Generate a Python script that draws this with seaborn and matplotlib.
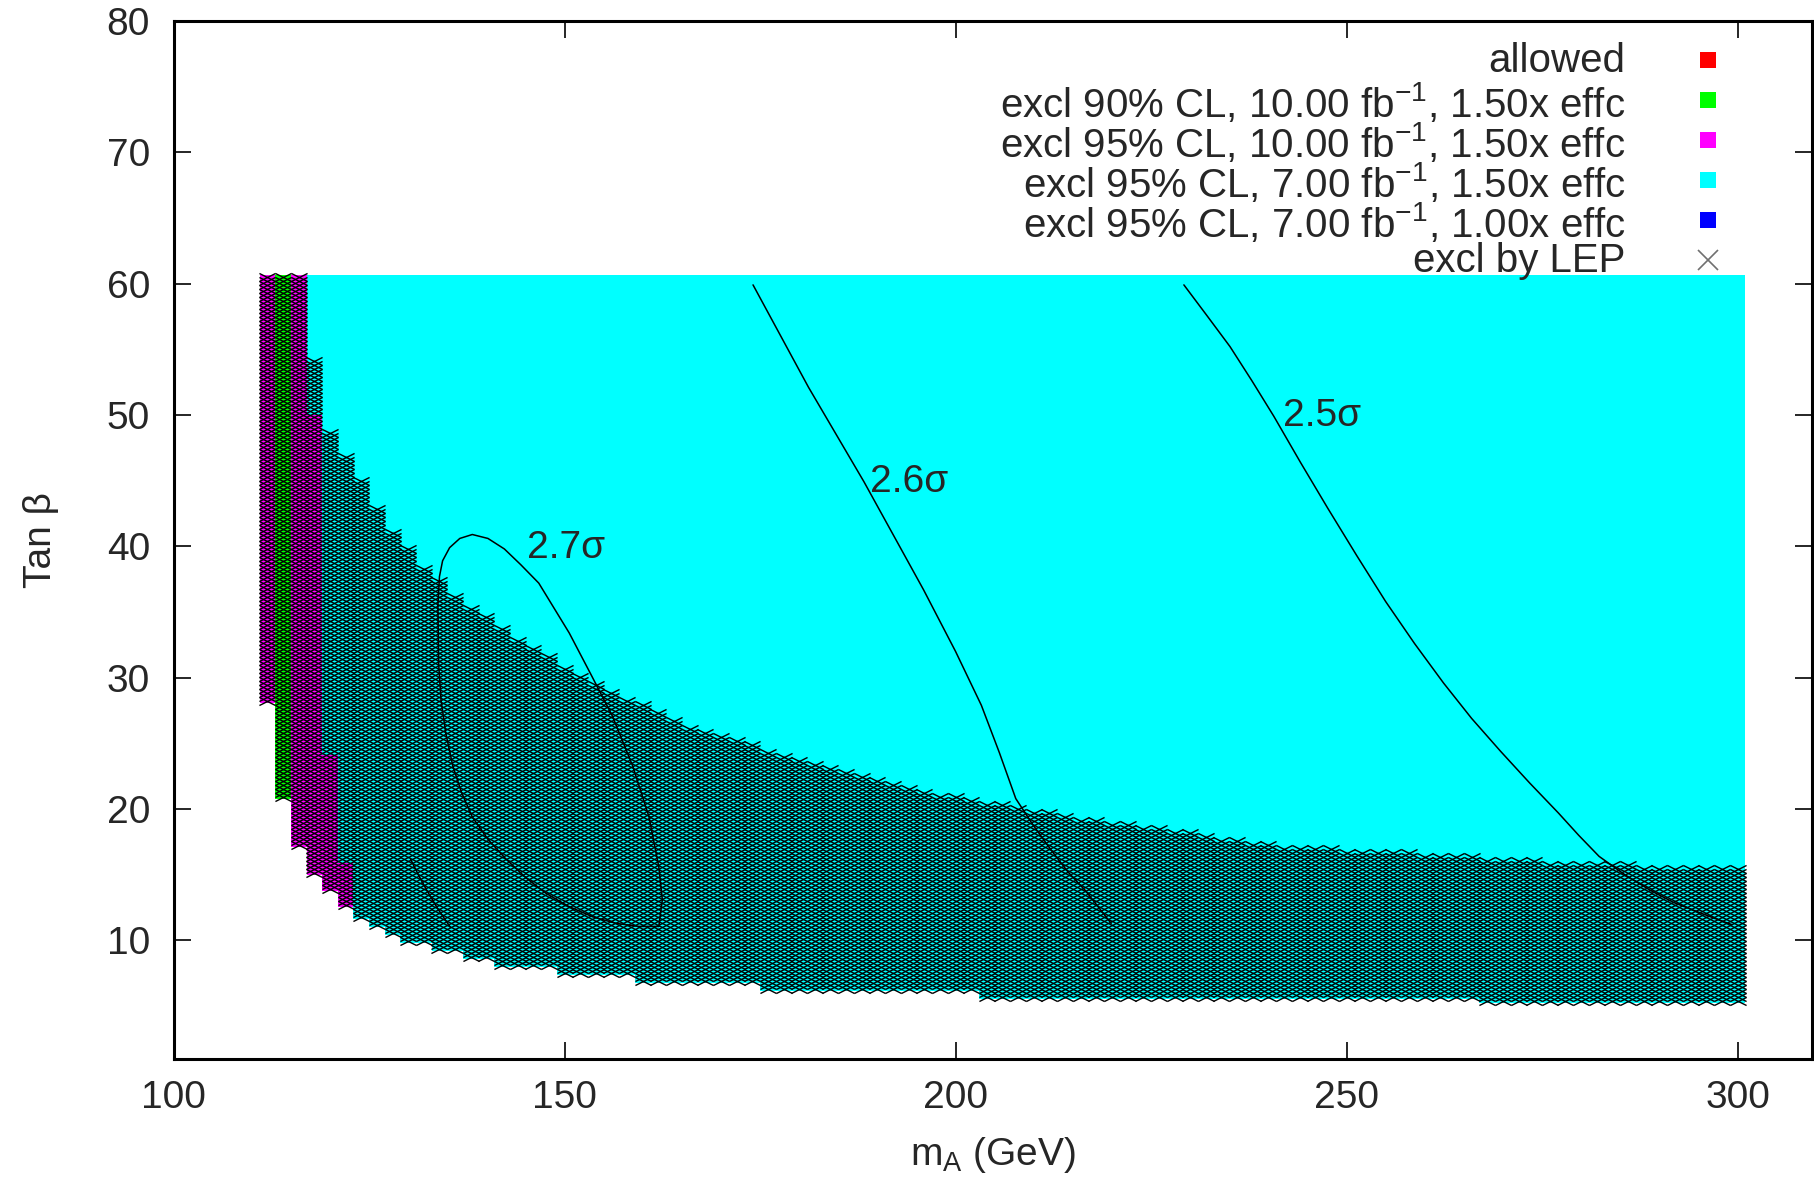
import numpy as np
import matplotlib
matplotlib.use("Agg")
import matplotlib.pyplot as plt
from matplotlib.colors import ListedColormap
from matplotlib.path import Path
import seaborn as sns

# scan grid: mA columns of 2 GeV, tan(beta) rows of about 0.3
ma_edges = np.arange(111, 302, 2)
tb_edges = 60.65 - np.arange(197)[::-1] * 0.3044

# lower edge of the scanned (coloured) region, as steps in mA
floor_ma = [111, 113, 115, 117, 119, 121, 123, 125, 127, 129, 133, 137, 141, 149, 159, 175, 203, 267]
floor_tb = [28.2, 20.7, 17.2, 14.9, 13.7, 12.6, 11.5, 10.9, 10.3, 9.7, 9.1, 8.5, 8.0, 7.4, 6.8, 6.2, 5.7, 5.2]

# low mass columns: colour below the cut (1 = 90% CL 10/fb, 2 = 95% CL 10/fb), 7/fb region above it
low_cols = [112, 114, 116, 118, 120, 122]
low_code = [2, 1, 2, 2, 2, 2]
low_cut = [61.0, 61.0, 61.0, 49.9, 24.1, 15.9]

# upper edge of the LEP excluded region
lep_ma = [118, 120, 123, 127.3, 131.1, 134.9, 139.2, 143.4, 147.7, 152.0, 156.2, 160.5, 164.8,
          174, 181, 189, 196, 204, 211, 218, 226, 240, 255, 270, 285, 300]
lep_tb = [54.2, 48.9, 46.1, 41.8, 39.1, 36.9, 35.0, 33.2, 31.7, 30.2, 29.0, 27.8, 26.6,
          24.9, 23.6, 22.3, 21.4, 20.6, 19.8, 19.2, 18.6, 17.3, 16.8, 16.2, 15.8, 15.5]

# significance contours
sig27_ma = [162.05, 162.5, 162.05, 160.8, 158.7, 156.1, 153.5, 150.6, 146.7, 144.4, 142.3, 140.2,
            138.2, 136.6, 135.3, 134.4, 134.0, 133.8, 133.9, 134.2, 134.8, 135.7, 136.8, 138.2,
            140.2, 142.5, 145.0, 147.6, 150.5, 153.6, 156.6, 159.5, 162.05]
sig27_tb = [11.07, 13.1, 15.6, 19.4, 23.3, 27.1, 30.1, 33.4, 37.2, 38.6, 39.8, 40.6,
            40.9, 40.6, 39.9, 38.9, 37.7, 35.5, 31.0, 28.3, 25.8, 23.3, 21.3, 19.4,
            17.7, 16.2, 14.8, 13.6, 12.6, 11.8, 11.3, 11.07, 11.07]
sig28_ma = [130.3, 131.3, 132.3, 133.8, 135.4]
sig28_tb = [16.2, 15.0, 13.9, 12.4, 11.0]
sig26_ma = [174.1, 181.2, 188.3, 195.9, 200.0, 203.3, 205.6, 207.7, 209.9, 212.2, 214.4, 216.6, 219.9]
sig26_tb = [59.9, 52.1, 44.9, 36.7, 32.0, 27.9, 24.3, 20.8, 18.8, 16.9, 15.2, 13.8, 11.3]
sig25_ma = [229.2, 232.1, 235.1, 237.9, 240.7, 244.1, 247.6, 251.3, 255.0, 258.7, 262.4, 266.0,
            269.7, 273.4, 277.1, 279.7, 282.3, 285.6, 288.9, 291.8, 294.8, 297.0, 299.3]
sig25_tb = [59.9, 57.6, 55.2, 52.6, 49.9, 46.4, 42.9, 39.3, 35.8, 32.6, 29.6, 26.9,
            24.4, 22.0, 19.7, 18.0, 16.4, 15.0, 13.8, 12.9, 12.2, 11.7, 11.2]

contour_labels = ["2.7σ", "2.6σ", "2.5σ"]
label_ma = [150.2, 194.0, 246.9]
label_tb = [39.9, 44.9, 49.9]

legend_labels = ["allowed",
                 "excl 90% CL, 10.00 fb$^{\\mathregular{-1}}$, 1.50x effc",
                 "excl 95% CL, 10.00 fb$^{\\mathregular{-1}}$, 1.50x effc",
                 "excl 95% CL, 7.00 fb$^{\\mathregular{-1}}$, 1.50x effc",
                 "excl 95% CL, 7.00 fb$^{\\mathregular{-1}}$, 1.00x effc",
                 "excl by LEP"]
legend_colors = ["#ff0000", "#00ff00", "#ff00ff", "#00ffff", "#0000ff", "#707070"]

sns.set_style("ticks")
plt.rcParams["font.family"] = ["Liberation Sans", "DejaVu Sans"]
plt.rcParams["mathtext.fontset"] = "custom"
plt.rcParams["mathtext.rm"] = "Liberation Sans"
plt.rcParams["mathtext.it"] = "Liberation Sans:italic"
plt.rcParams["font.size"] = 28

fig = plt.figure(figsize=(18.14, 11.82), dpi=100)
ax = fig.add_axes([0.0957, 0.1043, 0.9033, 0.8781])

# build the cell map
ma_c = (ma_edges[:-1] + ma_edges[1:]) / 2
tb_c = (tb_edges[:-1] + tb_edges[1:]) / 2
MA, TB = np.meshgrid(ma_c, tb_c)
floor = np.array(floor_tb)[np.searchsorted(floor_ma, MA, side="right") - 1]
inside = TB >= floor
grid = np.where(inside, 3.0, np.nan)
for c, code, cut in zip(low_cols, low_code, low_cut):
    grid[(MA == c) & inside & (TB < cut)] = code

cmap = ListedColormap(["#00ff00", "#ff00ff", "#00ffff"])
ax.pcolormesh(ma_edges, tb_edges, np.ma.masked_invalid(grid), cmap=cmap,
              vmin=0.5, vmax=3.5, shading="flat", zorder=1)

# LEP exclusion as x marks on every excluded cell
lep_top = np.interp(MA, lep_ma, lep_tb, left=99.0)
lep = inside & (TB <= lep_top)
xmark = Path([(-1, -0.5), (1, 0.5), (-1, 0.5), (1, -0.5)],
             [Path.MOVETO, Path.LINETO, Path.MOVETO, Path.LINETO])
sns.scatterplot(x=MA[lep], y=TB[lep], marker=xmark, s=135, color="black",
                edgecolor="black", linewidth=1.0, legend=False, ax=ax, zorder=3)

for xs, ys in [(sig27_ma, sig27_tb), (sig28_ma, sig28_tb), (sig26_ma, sig26_tb), (sig25_ma, sig25_tb)]:
    ax.plot(xs, ys, color="black", lw=1.1, zorder=4)
for t, x, y in zip(contour_labels, label_ma, label_tb):
    ax.text(x, y, t, ha="center", va="center", fontsize=28, zorder=5)

# key in the upper right corner
text_y = [0.951, 0.9076, 0.869, 0.8306, 0.792, 0.7583]
mark_y = [0.9622, 0.9237, 0.8852, 0.8466, 0.8081, 0.7696]
for lab, col, ty, my in zip(legend_labels, legend_colors, text_y, mark_y):
    ax.text(0.8862, ty, lab, ha="right", va="baseline", transform=ax.transAxes, fontsize=29)
    if lab == "excl by LEP":
        ax.plot([0.9365], [my], marker="x", ms=14, mew=1.2, color=col, transform=ax.transAxes)
    else:
        ax.plot([0.9365], [my], marker="s", ms=12, mew=0, color=col, transform=ax.transAxes)

ax.set_xlim(100, 309.55)
ax.set_ylim(1, 80)
ax.set_xticks([100, 150, 200, 250, 300])
ax.set_yticks([10, 20, 30, 40, 50, 60, 70, 80])
ax.tick_params(direction="in", length=12, width=1.4, top=True, right=True, labelsize=28)
ax.tick_params(axis="x", pad=15)
ax.tick_params(axis="y", pad=17)
for s in ax.spines.values():
    s.set_linewidth(2.2)
    s.set_color("black")
ax.set_xlabel("m$_{\\mathrm{A}}$ (GeV)", fontsize=28, labelpad=14)
ax.set_ylabel("Tan β", fontsize=28, labelpad=34)

fig.savefig("out.png", dpi=100)
